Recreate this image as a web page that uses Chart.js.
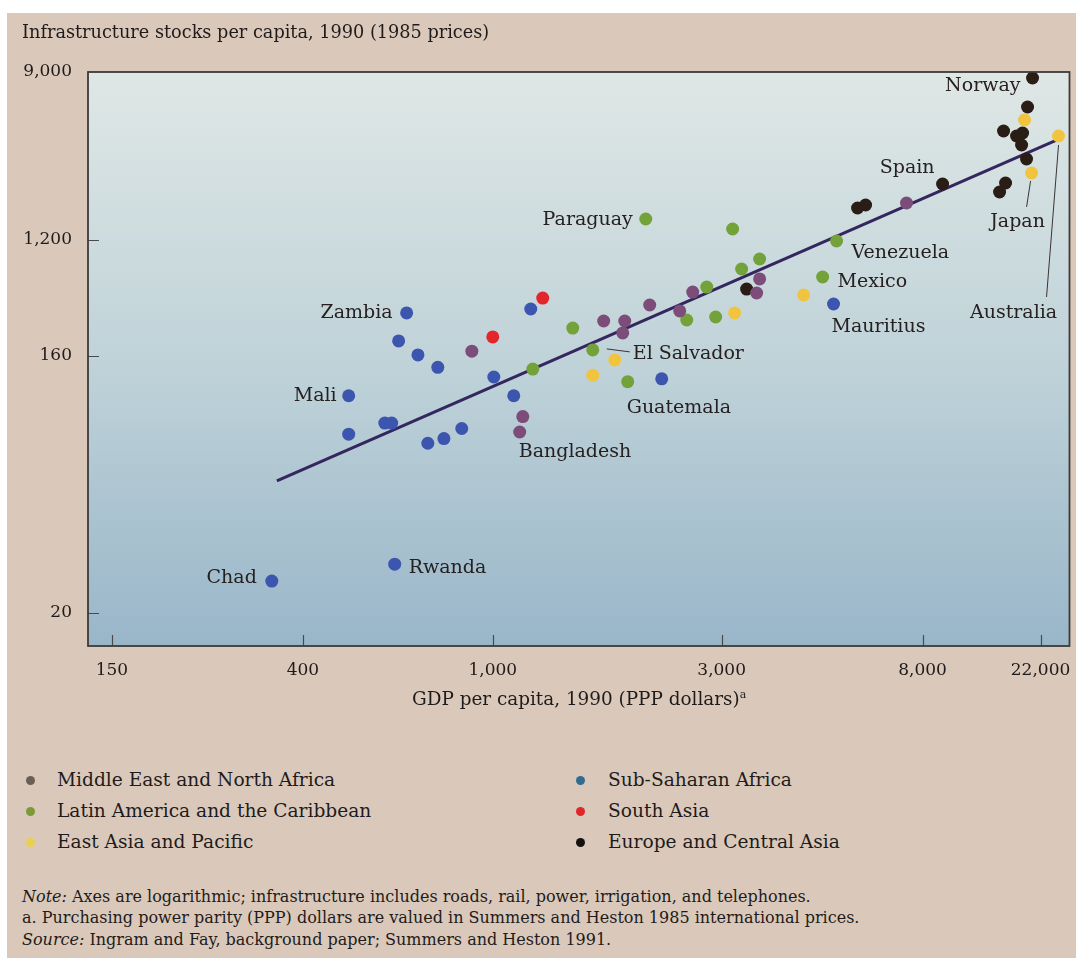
<!DOCTYPE html>
<html>
<head>
<meta charset="utf-8">
<script src="https://cdn.jsdelivr.net/npm/chart.js@4.4.0/dist/chart.umd.min.js"></script>
<style>
  html, body { margin: 0; padding: 0; background: #fff; }
  #page { position: relative; width: 1076px; height: 958px; overflow: hidden;
          font-family: "DejaVu Serif", serif; color: #1f1b1b; }
  #panel { position: absolute; left: 7px; top: 13px; right: 0; bottom: 0; background: #dac9ba; }
  #chart { position: absolute; left: 0; top: 0; }
  .t { position: absolute; white-space: nowrap; line-height: 20px; }
  .title { left: 22px; top: 22px; font-size: 17.7px; }
  .xtitle { left: 412px; top: 689px; font-size: 18.4px; }
  .xtitle sup { font-size: 11px; vertical-align: 7px; line-height: 0; }
  .leg { font-size: 18.6px; }
  .leg i { position: absolute; top: 6px; width: 9px; height: 9px; border-radius: 50%; }
  .note { left: 22px; font-size: 16px; }
</style>
</head>
<body>
<div id="page">
  <div id="panel"></div>
  <canvas id="chart" width="1076" height="720"></canvas>
  <div class="t title">Infrastructure stocks per capita, 1990 (1985 prices)</div>
  <div class="t xtitle">GDP per capita, 1990 (PPP dollars)<sup>a</sup></div>
  <div id="legend"></div>
  <div class="t note" style="top:887px"><em>Note:</em> Axes are logarithmic; infrastructure includes roads, rail, power, irrigation, and telephones.</div>
  <div class="t note" style="top:908px">a. Purchasing power parity (PPP) dollars are valued in Summers and Heston 1985 international prices.</div>
  <div class="t note" style="top:930px"><em>Source:</em> Ingram and Fay, background paper; Summers and Heston 1991.</div>
</div>
<script>
// GDP per capita (PPP $) and infrastructure stock per capita, by region
const ssaGdp   = [660, 635, 697, 767, 499, 499, 594, 614, 731, 790, 861, 1005, 1106, 1200, 2250, 341, 623, 5180];
const ssaInfra = [338, 208, 163, 146, 116, 85, 93, 93, 79, 82, 89, 135, 116, 362, 133, 25.9, 29.7, 395];

const menaGdp   = [904, 1155, 1138, 1703, 2124, 1884, 1866, 2453, 2611, 3611, 3559, 7397];
const menaInfra = [174, 98, 86.5, 294, 388, 294, 239, 350, 486, 610, 478, 1871];

const lacGdp   = [1468, 1616, 1212, 1911, 2537, 3165, 3611, 3307, 2793, 2915, 4911, 2084, 5257];
const lacInfra = [260, 178, 144, 130, 299, 1369, 863, 725, 530, 315, 631, 1544, 1179];

const eapGdp   = [1616, 1796, 3196, 4477, 19180, 20370, 25670];
const eapInfra = [137, 155, 338, 462, 5060, 2681, 4178];

const saGdp   = [1000, 1271];
const saInfra = [223, 438];

const ecaGdp   = [3389, 5825, 6057, 9497, 20540, 19680, 16020, 17910, 18860, 18700, 19510, 16300, 15480];
const ecaInfra = [512, 1762, 1826, 2349, 8377, 5914, 4436, 4178, 4330, 3750, 3171, 2377, 2134];

// fitted line end points
const fitGdp   = [350, 25230];
const fitInfra = [58.2, 3981];

const xTicks = [150, 400, 1000, 3000, 8000, 22000];
const yTicks = [20, 160, 1200, 9000];

const regions = [
  { id: 'mena', name: 'Middle East and North Africa', gdp: menaGdp, infra: menaInfra },
  { id: 'lac',  name: 'Latin America and the Caribbean', gdp: lacGdp, infra: lacInfra },
  { id: 'eap',  name: 'East Asia and Pacific', gdp: eapGdp, infra: eapInfra },
  { id: 'ssa',  name: 'Sub-Saharan Africa', gdp: ssaGdp, infra: ssaInfra },
  { id: 'sa',   name: 'South Asia', gdp: saGdp, infra: saInfra },
  { id: 'eca',  name: 'Europe and Central Asia', gdp: ecaGdp, infra: ecaInfra }
];
const dotColor = { mena: '#7b4d78', lac: '#74a23a', eap: '#f1c43f', ssa: '#3c55ae', sa: '#e2262b', eca: '#2a1d15' };
const keyColor = { mena: '#6a5e55', lac: '#7d9a3a', eap: '#e9cf52', ssa: '#336a92', sa: '#e0262b', eca: '#141010' };

// country names beside points
const notes = [
  { text: 'Norway', set: 'eca', i: 4, dx: -12, dy: 8, align: 'right' },
  { text: 'Spain', set: 'eca', i: 3, dx: -8, dy: -16, align: 'right' },
  { text: 'Paraguay', set: 'lac', i: 11, dx: -13, dy: 1, align: 'right' },
  { text: 'Venezuela', set: 'lac', i: 12, dx: 15, dy: 12, align: 'left' },
  { text: 'Mexico', set: 'lac', i: 10, dx: 15, dy: 5, align: 'left' },
  { text: 'Mauritius', set: 'ssa', i: 17, dx: -2, dy: 23, align: 'left' },
  { text: 'Japan', set: 'eap', i: 5, dx: -14, dy: 49, align: 'center', lead: [[-1, 8], [-5, 34]] },
  { text: 'Australia', set: 'eap', i: 6, dx: -45, dy: 177, align: 'center', lead: [[0, 9], [-12, 161]] },
  { text: 'El Salvador', set: 'lac', i: 1, dx: 40, dy: 4, align: 'left', lead: [[14, -1], [37, 2]] },
  { text: 'Zambia', set: 'ssa', i: 0, dx: -14, dy: 0, align: 'right' },
  { text: 'Mali', set: 'ssa', i: 4, dx: -12, dy: 0, align: 'right' },
  { text: 'Guatemala', set: 'lac', i: 3, dx: -1, dy: 26, align: 'left' },
  { text: 'Bangladesh', set: 'mena', i: 2, dx: -1, dy: 20, align: 'left' },
  { text: 'Chad', set: 'ssa', i: 15, dx: -15, dy: -3, align: 'right' },
  { text: 'Rwanda', set: 'ssa', i: 16, dx: 14, dy: 4, align: 'left' }
];

// the printed axes are logarithmic but their labelled ticks are not evenly spaced;
// knots give [value, position along axis 0..1] and the scale interpolates in log between them
const warpKnots = {
  x: [[132.5, 0], [150, 0.0244], [400, 0.2189], [1000, 0.4124], [3000, 0.6456], [8000, 0.8503], [22000, 0.9705], [28200, 1]],
  y: [[15.3, 0], [20, 0.0575], [160, 0.5052], [1200, 0.7073], [9000, 1]]
};

const LogScale = Chart.LogarithmicScale || Chart.registry.getScale('logarithmic');
class WarpedLogScale extends LogScale {
  toDecimal(v) {
    const k = warpKnots[this.id], l = Math.log10(v);
    let i = 1;
    while (i < k.length - 1 && l > Math.log10(k[i][0])) i++;
    const l0 = Math.log10(k[i - 1][0]), l1 = Math.log10(k[i][0]);
    return k[i - 1][1] + (l - l0) / (l1 - l0) * (k[i][1] - k[i - 1][1]);
  }
  getPixelForValue(v) {
    if (v === null || v === undefined || isNaN(v) || v <= 0) return NaN;
    return this.getPixelForDecimal(this.toDecimal(v));
  }
  getValueForPixel(p) {
    const k = warpKnots[this.id], d = this.getDecimalForPixel(p);
    let i = 1;
    while (i < k.length - 1 && d > k[i][1]) i++;
    const l0 = Math.log10(k[i - 1][0]), l1 = Math.log10(k[i][0]);
    return Math.pow(10, l0 + (d - k[i - 1][1]) / (k[i][1] - k[i - 1][1]) * (l1 - l0));
  }
}
WarpedLogScale.id = 'warpedLog';
WarpedLogScale.defaults = LogScale.defaults;
Chart.register(WarpedLogScale);

const tickFont = { family: 'DejaVu Serif', size: 17 };

// keep the frame where the printed one is: no extra room for overhanging labels
const fixBox = (s, size) => {
  if (s.isHorizontal()) s.height = size; else s.width = size;
  s.paddingLeft = s.paddingRight = s.paddingTop = s.paddingBottom = 0;
};

const plotBox = {
  id: 'plotBox',
  beforeDatasetsDraw(chart) {
    const { ctx, chartArea: a } = chart;
    const g = ctx.createLinearGradient(0, a.top, 0, a.bottom);
    g.addColorStop(0, '#dfe7e5');
    g.addColorStop(0.5, '#c0d3d9');
    g.addColorStop(1, '#99b6c9');
    ctx.save();
    ctx.fillStyle = g;
    ctx.fillRect(a.left, a.top, a.right - a.left, a.bottom - a.top);
    // tick marks drawn inside the frame
    ctx.strokeStyle = '#4a4a4a';
    ctx.lineWidth = 1.2;
    ctx.beginPath();
    chart.scales.x.ticks.forEach(t => {
      const px = Math.round(chart.scales.x.getPixelForValue(t.value)) + 0.5;
      if (px < a.right - 2) { ctx.moveTo(px, a.bottom); ctx.lineTo(px, a.bottom - 11); }
    });
    chart.scales.y.ticks.forEach(t => {
      const py = Math.round(chart.scales.y.getPixelForValue(t.value)) + 0.5;
      if (py > a.top + 2) { ctx.moveTo(a.left, py); ctx.lineTo(a.left + 11, py); }
    });
    ctx.stroke();
    ctx.restore();
  },
  afterDraw(chart) {
    const { ctx, chartArea: a } = chart;
    ctx.save();
    ctx.strokeStyle = '#3c3a3a';
    ctx.lineWidth = 1.8;
    ctx.strokeRect(a.left, a.top, a.right - a.left, a.bottom - a.top);
    ctx.restore();
  }
};

const countryNames = {
  id: 'countryNames',
  afterDatasetsDraw(chart) {
    const ctx = chart.ctx;
    ctx.save();
    ctx.font = '19px "DejaVu Serif"';
    ctx.fillStyle = '#262020';
    ctx.strokeStyle = '#3a3434';
    ctx.lineWidth = 1;
    ctx.textBaseline = 'middle';
    notes.forEach(n => {
      const dsIndex = chart.data.datasets.findIndex(d => d.key === n.set);
      const pt = chart.getDatasetMeta(dsIndex).data[n.i];
      if (!pt) return;
      if (n.lead) {
        ctx.beginPath();
        ctx.moveTo(pt.x + n.lead[0][0], pt.y + n.lead[0][1]);
        ctx.lineTo(pt.x + n.lead[1][0], pt.y + n.lead[1][1]);
        ctx.stroke();
      }
      ctx.textAlign = n.align;
      ctx.fillText(n.text, pt.x + n.dx, pt.y + n.dy);
    });
    ctx.restore();
  }
};

const datasets = regions.map(r => ({
  key: r.id,
  label: r.name,
  type: 'scatter',
  data: r.gdp.map((g, i) => ({ x: g, y: r.infra[i] })),
  backgroundColor: dotColor[r.id],
  borderWidth: 0,
  pointRadius: 6.5,
  order: 1
}));
datasets.push({
  key: 'fit',
  label: 'Fitted line',
  type: 'line',
  data: fitGdp.map((g, i) => ({ x: g, y: fitInfra[i] })),
  borderColor: '#34275f',
  borderWidth: 3,
  pointRadius: 0,
  fill: false,
  order: 10
});

new Chart(document.getElementById('chart'), {
  type: 'scatter',
  data: { datasets },
  plugins: [plotBox, countryNames],
  options: {
    responsive: false,
    animation: false,
    devicePixelRatio: 1,
    layout: { padding: { top: 72, right: 6, left: 0, bottom: 0 } },
    plugins: { legend: { display: false }, tooltip: { enabled: false } },
    scales: {
      x: {
        type: 'warpedLog',
        min: 132.5, max: 28200,
        grid: { display: false, drawTicks: false },
        border: { display: false },
        afterBuildTicks: s => { s.ticks = xTicks.map(v => ({ value: v })); },
        afterFit: s => fixBox(s, 74),
        ticks: { autoSkip: false, maxRotation: 0, padding: 14, color: '#1f1b1b', font: tickFont,
                 callback: v => v.toLocaleString('en-US') }
      },
      y: {
        type: 'warpedLog',
        min: 15.3, max: 9000,
        grid: { display: false, drawTicks: false },
        border: { display: false },
        afterBuildTicks: s => { s.ticks = yTicks.map(v => ({ value: v })); },
        afterFit: s => fixBox(s, 88),
        ticks: { autoSkip: false, padding: 16, color: '#1f1b1b', font: tickFont,
                 callback: v => v.toLocaleString('en-US') }
      }
    }
  }
});

// legend in two columns of three
const legend = document.getElementById('legend');
regions.forEach((r, k) => {
  const col = Math.floor(k / 3), row = k % 3;
  const el = document.createElement('div');
  el.className = 't leg';
  el.style.left = (col ? 608 : 57) + 'px';
  el.style.top = (770 + row * 31) + 'px';
  el.innerHTML = '<i style="left:' + (col ? -32 : -31) + 'px;background:' + keyColor[r.id] + '"></i>' + r.name;
  legend.appendChild(el);
});
</script>
</body>
</html>
